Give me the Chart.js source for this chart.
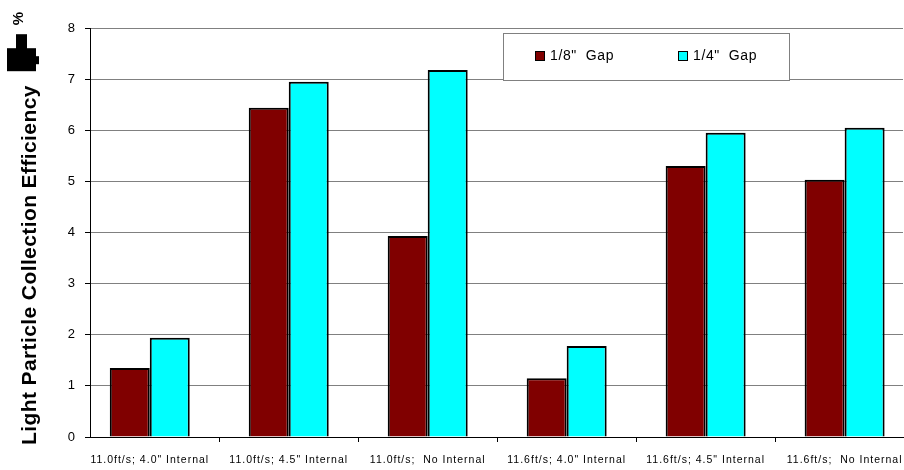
<!DOCTYPE html>
<html>
<head>
<meta charset="utf-8">
<script src="https://cdn.jsdelivr.net/npm/chart.js@4/dist/chart.umd.min.js"></script>
<style>
  html, body { margin: 0; padding: 0; background: #ffffff; }
  #wrap { width: 904px; height: 470px; position: relative; }
</style>
</head>
<body>
<div id="wrap"><canvas id="c" width="904" height="470"></canvas></div>
<script>
// Test conditions (flow velocity; internal length)
const categories = [
  '11.0ft/s; 4.0" Internal',
  '11.0ft/s; 4.5" Internal',
  '11.0ft/s;  No Internal',
  '11.6ft/s; 4.0" Internal',
  '11.6ft/s; 4.5" Internal',
  '11.6ft/s;  No Internal'
];
// Light particle collection efficiency, %
const gapEighth = [1.35, 6.44, 3.93, 1.15, 5.30, 5.03];
const gapQuarter = [1.94, 6.95, 7.18, 1.78, 5.95, 6.05];
const seriesNames = ['1/8"  Gap', '1/4"  Gap'];
const yTicks = [0, 1, 2, 3, 4, 5, 6, 7, 8];
const yTitle = 'Light Particle Collection Efficiency';

const FONT = '"Liberation Sans", Arial, sans-serif';

const toPoints = arr => arr.map((v, i) => ({ x: i, y: v }));

// Wider character spacing for the category labels
const spacingPlugin = {
  id: 'spacing',
  beforeDraw(chart) { chart.ctx.letterSpacing = '1px'; },
  afterDatasetsDraw(chart) { chart.ctx.letterSpacing = '0px'; }
};

// Rotated axis title with its unit mark
const yTitlePlugin = {
  id: 'yTitle',
  afterDraw(chart) {
    const ctx = chart.ctx;
    ctx.save();
    ctx.translate(36, 445);
    ctx.rotate(-Math.PI / 2);
    ctx.fillStyle = '#000';
    ctx.letterSpacing = '0.4px';
    ctx.font = 'bold 21px ' + FONT;
    ctx.textAlign = 'left';
    ctx.textBaseline = 'alphabetic';
    ctx.fillText(yTitle, 0, 0);
    const w = ctx.measureText(yTitle).width;
    ctx.fillRect(w + 14, -29, 23, 29);
    ctx.fillRect(w + 36, -20, 15, 11);
    ctx.fillRect(w + 21, -1, 8, 4);
    ctx.letterSpacing = '0px';
    ctx.font = 'bold 15px ' + FONT;
    ctx.fillText('%', w + 60, -13);
    ctx.restore();
  }
};

// Boxed legend inside the plot area
const boxLegendPlugin = {
  id: 'boxLegend',
  afterDraw(chart) {
    const ctx = chart.ctx;
    ctx.save();
    ctx.letterSpacing = '0.6px';
    ctx.fillStyle = '#ffffff';
    ctx.fillRect(503.5, 33.5, 286, 47);
    ctx.strokeStyle = '#808080';
    ctx.lineWidth = 1;
    ctx.strokeRect(503.5, 33.5, 286, 47);
    const xs = [535, 678];
    ctx.font = '14px ' + FONT;
    ctx.textBaseline = 'middle';
    ctx.textAlign = 'left';
    chart.data.datasets.forEach((ds, i) => {
      ctx.fillStyle = ds.backgroundColor;
      ctx.fillRect(xs[i] + 0.5, 51.5, 9, 9);
      ctx.strokeStyle = '#000';
      ctx.strokeRect(xs[i] + 0.5, 51.5, 9, 9);
      ctx.fillStyle = '#000';
      ctx.fillText(ds.label, xs[i] + 15, 56.5);
    });
    ctx.restore();
  }
};

new Chart(document.getElementById('c'), {
  type: 'bar',
  data: {
    datasets: [
      { label: seriesNames[0], data: toPoints(gapEighth), backgroundColor: '#800000', borderColor: '#000000', borderWidth: 2 },
      { label: seriesNames[1], data: toPoints(gapQuarter), backgroundColor: '#00FFFF', borderColor: '#000000', borderWidth: 2 }
    ]
  },
  options: {
    responsive: false,
    animation: false,
    devicePixelRatio: 1,
    layout: { padding: { left: 0, right: 1, top: 28, bottom: 0 } },
    datasets: { bar: { barPercentage: 1, categoryPercentage: 0.5755 } },
    plugins: {
      legend: { display: false },
      tooltip: { enabled: false }
    },
    scales: {
      x: {
        type: 'linear',
        min: -0.43,
        max: 5.42,
        offset: false,
        afterBuildTicks(scale) { scale.ticks = categories.map((c, i) => ({ value: i })); },
        grid: { offset: true, drawOnChartArea: false, drawTicks: true, tickLength: 5, color: '#000', tickColor: '#000' },
        border: { display: true, color: '#000', width: 1 },
        ticks: {
          color: '#000', font: { family: FONT, size: 10.5 }, padding: 12,
          maxRotation: 0, minRotation: 0, autoSkip: false,
          callback: (v) => categories[v]
        },
        afterFit(scale) { scale.height = 33; }
      },
      y: {
        min: 0, max: 8,
        afterBuildTicks(scale) { scale.ticks = yTicks.map(v => ({ value: v })); },
        grid: { color: '#808080', lineWidth: 1, drawTicks: true, tickLength: 5, tickColor: '#000' },
        border: { display: true, color: '#000', width: 1 },
        ticks: { color: '#000', font: { family: FONT, size: 13 }, padding: 9 },
        afterFit(scale) { scale.width = 90; }
      }
    }
  },
  plugins: [spacingPlugin, yTitlePlugin, boxLegendPlugin]
});
</script>
</body>
</html>
